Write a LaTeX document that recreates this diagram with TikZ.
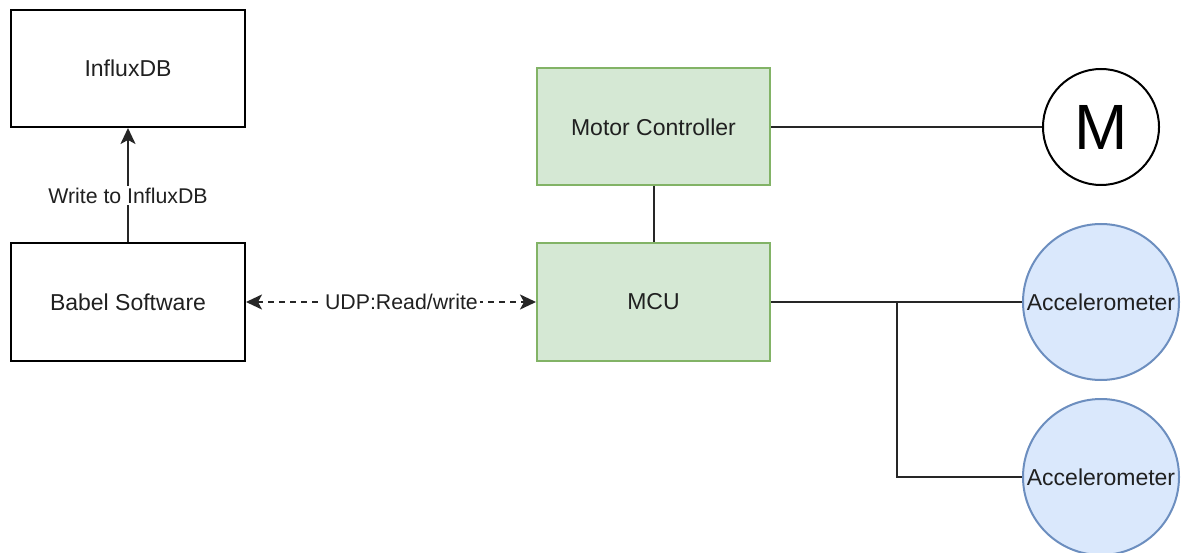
\documentclass[tikz,border=0pt]{standalone}
\usepackage{fontspec}
\setmainfont{Liberation Sans}
\usetikzlibrary{arrows.meta}
\definecolor{gfill}{HTML}{D5E8D4}
\definecolor{gline}{HTML}{82B366}
\definecolor{bfill}{HTML}{DAE8FC}
\definecolor{bline}{HTML}{6C8EBF}
\definecolor{txt}{HTML}{202020}
\tikzset{
  plainbox/.style={draw=black, line width=2pt, fill=white, minimum width=234pt, minimum height=117pt, inner sep=0pt, font=\fontsize{23}{27}\selectfont, text=txt},
  greenbox/.style={draw=gline, line width=2pt, fill=gfill, minimum width=233pt, minimum height=117pt, inner sep=0pt, font=\fontsize{23}{27}\selectfont, text=txt},
  accel/.style={circle, draw=bline, line width=2pt, fill=bfill, minimum size=156pt, inner sep=0pt, font=\fontsize{23}{27}\selectfont, text=txt},
  motor/.style={circle, draw=black, line width=2pt, fill=white, minimum size=116pt, inner sep=0pt, font=\fontsize{64}{70}\selectfont, text=black},
  wire/.style={draw=black!85, line width=2pt},
  arr/.style={wire, -{Stealth[length=16pt,width=15pt,inset=4pt]}},
  biarr/.style={wire, dash pattern=on 6pt off 5pt, {Stealth[length=16pt,width=15pt,inset=4pt]}-{Stealth[length=16pt,width=15pt,inset=4pt]}},
  lbl/.style={fill=white, inner sep=2pt, font=\fontsize{21.3}{25}\selectfont, text=txt}
}
\begin{document}
\begin{tikzpicture}[x=1pt,y=-1pt]
\useasboundingbox (0,0) rectangle (1183,553);
\node[plainbox] (influx) at (128,68.5) {InfluxDB};
\node[plainbox] (babel) at (128,302) {Babel Software};
\node[greenbox] (mc) at (653.5,127) {Motor Controller};
\node[greenbox] (mcu) at (653.5,302) {MCU};
\node[motor] (m) at (1101,127) {M};
\node[accel] (acc1) at (1101,302) {Accelerometer};
\node[accel] (acc2) at (1101,477) {Accelerometer};
\coordinate (br) at (897,302);
\draw[arr] (babel.north) -- node[lbl, pos=0.41] {Write to InfluxDB} (influx.south);
\draw[biarr] (babel.east) -- node[lbl, pos=0.536] {UDP:Read/write} (mcu.west);
\draw[wire] (mc.east) -- (m.west);
\draw[wire] (mc.south) -- (mcu.north);
\draw[wire] (mcu.east) -- (acc1.west);
\draw[wire] (br) |- (acc2.west);
\end{tikzpicture}
\end{document}
